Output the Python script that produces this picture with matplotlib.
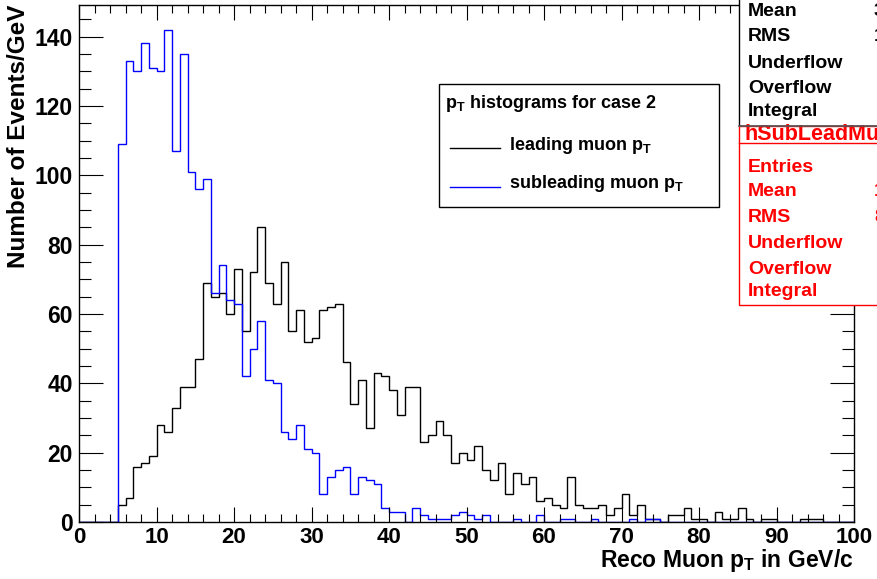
import numpy as np
import matplotlib
matplotlib.use("Agg")
import matplotlib.pyplot as plt
from matplotlib.patches import Rectangle
from matplotlib.lines import Line2D

# ---- data: 1 GeV bins from 0 to 100 GeV/c ----
bin_edges = list(range(0, 101))

leading_pt = [
    0, 0, 0, 0, 0, 5, 7, 16, 17, 19,
    28, 26, 33, 39, 39, 47, 69, 65, 66, 60,
    73, 55, 72, 85, 69, 63, 75, 55, 61, 52,
    53, 61, 62, 63, 46, 34, 41, 27, 43, 42,
    38, 31, 39, 39, 23, 25, 29, 25, 17, 20,
    18, 22, 15, 12, 17, 8, 14, 11, 13, 6,
    7, 5, 4, 13, 5, 4, 4, 5, 2, 4,
    8, 2, 5, 1, 1, 0, 2, 2, 4, 1,
    1, 0, 3, 1, 1, 4, 1, 0, 1, 1,
    0, 0, 0, 1, 1, 1, 0, 0, 0, 0,
]

subleading_pt = [
    0, 0, 0, 0, 0, 109, 133, 130, 138, 131,
    130, 142, 107, 135, 101, 96, 99, 66, 74, 64,
    63, 42, 50, 58, 41, 40, 26, 24, 28, 21,
    20, 8, 13, 15, 16, 8, 13, 12, 11, 4,
    3, 3, 0, 4, 2, 1, 1, 1, 2, 3,
    2, 1, 2, 0, 0, 0, 1, 0, 0, 2,
    0, 0, 1, 1, 0, 0, 1, 0, 0, 0,
    0, 1, 0, 1, 1, 0, 0, 0, 0, 0,
    0, 0, 0, 0, 0, 0, 0, 0, 0, 0,
    0, 0, 0, 0, 0, 0, 0, 0, 0, 0,
]

x_ticks = [0, 10, 20, 30, 40, 50, 60, 70, 80, 90, 100]
y_ticks = [0, 20, 40, 60, 80, 100, 120, 140]

legend_title = "p$_{T}$ histograms for case 2"
legend_labels = ["leading muon p$_{T}$", "subleading muon p$_{T}$"]
stat_rows = ["Mean", "RMS", "Underflow", "Overflow", "Integral"]
sub_stat_rows = ["Entries"] + stat_rows
sub_hist_name = "hSubLeadMuonPt"

# ---- style ----
FONT = "Liberation Sans"
plt.rcParams["font.family"] = [FONT, "DejaVu Sans"]
plt.rcParams["font.weight"] = "bold"
plt.rcParams["mathtext.fontset"] = "custom"
plt.rcParams["mathtext.rm"] = FONT + ":bold"
plt.rcParams["mathtext.it"] = FONT + ":bold"
plt.rcParams["mathtext.bf"] = FONT + ":bold"

W, H = 877, 579
fig = plt.figure(figsize=(W / 100, H / 100), dpi=100)


def fx(x):
    return x / W


def fy(y):
    return 1 - y / H


ax = fig.add_axes([fx(79), fy(522), (854 - 79) / W, (522 - 5) / H])

edges = np.array(bin_edges, dtype=float)
lead = np.array(leading_pt, dtype=float)
sub = np.array(subleading_pt, dtype=float)

ax.stairs(lead, edges, baseline=0, color="black", lw=1.0)
ax.stairs(sub, edges, baseline=0, color=(0, 0, 1), lw=1.0)

ax.set_xlim(edges[0], edges[-1])
ax.set_ylim(0, 1.05 * max(sub.max(), lead.max()))

ax.set_xticks(x_ticks)
ax.set_yticks(y_ticks)
ax.set_xticks(np.arange(0, 101, 2), minor=True)
ax.set_yticks(np.arange(0, 150, 5), minor=True)
ax.set_xticklabels([str(v) for v in x_ticks])
ax.set_yticklabels([str(v) for v in y_ticks])

ax.tick_params(axis="both", which="both", direction="in", top=True, right=True,
               width=0.8, colors="black")
ax.tick_params(axis="x", which="major", length=11, pad=3.5, labelsize=16)
ax.tick_params(axis="x", which="minor", length=5.5)
ax.tick_params(axis="y", which="major", length=17, pad=4.5, labelsize=16.5)
ax.tick_params(axis="y", which="minor", length=8.5)
for lab in ax.get_xticklabels() + ax.get_yticklabels():
    lab.set_fontweight("bold")
for sp in ax.spines.values():
    sp.set_linewidth(1.0)
    sp.set_color("black")

# axis titles
fig.text(fx(853), fy(567), "Reco Muon p$_{T}$ in GeV/c", ha="right", va="baseline",
         fontsize=16.5, fontweight="bold")
fig.text(fx(19), fy(5), "Number of Events/GeV", rotation=90, ha="center", va="top",
         fontsize=17.5, fontweight="bold")

# legend box
fig.add_artist(Rectangle((fx(439), fy(207)), (719 - 439) / W, (207 - 84) / H,
                         transform=fig.transFigure, facecolor="white",
                         edgecolor="black", lw=1.0, zorder=5))
fig.text(fx(445), fy(108), legend_title, ha="left", va="baseline", fontsize=13,
         fontweight="bold", zorder=6)
for yy, col, lab in [(148, "black", legend_labels[0]), (186.5, (0, 0, 1), legend_labels[1])]:
    fig.add_artist(Line2D([fx(450), fx(500)], [fy(yy), fy(yy)], transform=fig.transFigure,
                          color=col, lw=1.0, zorder=6))
    fig.text(fx(509), fy(yy + 2), lab, ha="left", va="baseline", fontsize=13,
             fontweight="bold", zorder=6)


# statistics boxes
def stats(vals):
    centers = 0.5 * (edges[:-1] + edges[1:])
    n = vals.sum()
    mean = (centers * vals).sum() / n
    rms = np.sqrt(((centers - mean) ** 2 * vals).sum() / n)
    return mean, rms


lead_mean, lead_rms = stats(lead)
sub_mean, sub_rms = stats(sub)
STAT_FS = 14

# box for the leading histogram (top part runs off the canvas)
fig.add_artist(Rectangle((fx(739), fy(126)), (W + 20 - 739) / W, (126 + 40) / H,
                         transform=fig.transFigure, facecolor="white",
                         edgecolor="black", lw=1.0, zorder=7))
lead_y = [16.5, 41, 68, 93, 116.5]
for yy, name in zip(lead_y, stat_rows):
    fig.text(fx(748), fy(yy), name, ha="left", va="baseline", fontsize=STAT_FS,
             fontweight="bold", color="black", zorder=8)
fig.text(fx(874), fy(lead_y[0]), f"{lead_mean:.2f}", ha="left", va="baseline",
         fontsize=STAT_FS, fontweight="bold", color="black", zorder=8)
fig.text(fx(874), fy(lead_y[1]), f"{lead_rms:.2f}", ha="left", va="baseline",
         fontsize=STAT_FS, fontweight="bold", color="black", zorder=8)

# box for the subleading histogram
red = (1, 0, 0)
fig.add_artist(Rectangle((fx(739), fy(305)), (W + 20 - 739) / W, (305 - 126) / H,
                         transform=fig.transFigure, facecolor="white",
                         edgecolor=red, lw=1.0, zorder=7))
fig.add_artist(Line2D([fx(739), fx(W)], [fy(126), fy(126)], transform=fig.transFigure,
                      color="#555555", lw=1.2, zorder=9))
fig.add_artist(Line2D([fx(739), fx(W)], [fy(143), fy(143)], transform=fig.transFigure,
                      color=red, lw=1.0, zorder=9))
fig.text(fx(745), fy(140.5), sub_hist_name, ha="left", va="baseline", fontsize=15.5,
         fontweight="bold", color=red, zorder=8)
sub_y = [171.5, 196.5, 222.5, 247.5, 273.5, 296.5]
for yy, name in zip(sub_y, sub_stat_rows):
    fig.text(fx(748), fy(yy), name, ha="left", va="baseline", fontsize=STAT_FS,
             fontweight="bold", color=red, zorder=8)
fig.text(fx(874), fy(sub_y[1]), f"{sub_mean:.2f}", ha="left", va="baseline",
         fontsize=STAT_FS, fontweight="bold", color=red, zorder=8)
fig.text(fx(874), fy(sub_y[2]), f"{sub_rms:.3f}", ha="left", va="baseline",
         fontsize=STAT_FS, fontweight="bold", color=red, zorder=8)

fig.savefig("out.png", dpi=100)
